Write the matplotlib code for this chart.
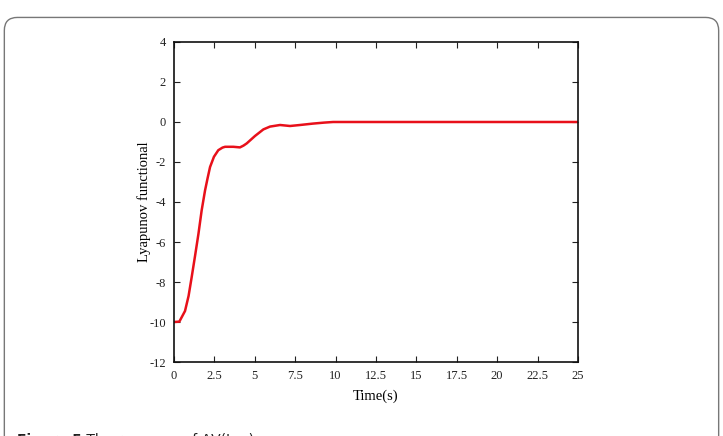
import matplotlib.pyplot as plt
from matplotlib.patches import FancyBboxPatch

# Lyapunov functional vs time
t = [0, 0.33, 0.68, 0.9, 1.09, 1.3, 1.51, 1.71, 1.92, 2.08, 2.23, 2.47, 2.74, 3.0,
     3.16, 3.67, 4.08, 4.3, 4.5, 5.01, 5.53, 5.94, 6.56, 7.18, 7.8, 8.6, 9.3, 9.85,
     12.0, 15.0, 20.0, 25.0]
v = [-10.0, -9.98, -9.45, -8.7, -7.77, -6.7, -5.6, -4.42, -3.42, -2.8, -2.25, -1.74,
     -1.41, -1.28, -1.24, -1.24, -1.27, -1.18, -1.07, -0.70, -0.37, -0.23, -0.15,
     -0.2, -0.15, -0.08, -0.03, 0.0, 0.0, 0.0, 0.0, 0.0]

xticks = [0, 2.5, 5, 7.5, 10, 12.5, 15, 17.5, 20, 22.5, 25]
xtick_labels = ['0', '2.5', '5', '7.5', '10', '12.5', '15', '17.5', '20', '22.5', '25']
yticks = [-12, -10, -8, -6, -4, -2, 0, 2, 4]

plt.rcParams['font.family'] = ['Liberation Serif', 'DejaVu Serif']
plt.rcParams['axes.unicode_minus'] = False

fig = plt.figure(figsize=(7.23, 4.36), dpi=100)
ax = fig.add_axes([0.2407, 0.1697, 0.5587, 0.734])

ax.plot(t, v, color='#e8101a', lw=1.8)

ax.set_xlim(0, 25)
ax.set_ylim(-12, 4)
ax.set_xticks(xticks)
ax.set_xticklabels(xtick_labels)
ax.set_yticks(yticks)
ax.tick_params(direction='in', top=True, right=True, length=4, width=0.8,
               labelsize=9, pad=6, colors='#222222')
for s in ax.spines.values():
    s.set_linewidth(1.2)
    s.set_color('#111111')

ax.set_xlabel('Time(s)', fontsize=10.5, labelpad=5)
ax.set_ylabel('Lyapunov functional', fontsize=10.5)
ax.yaxis.set_label_coords(-0.058, 0.5)

# rounded frame around the figure
frame = FancyBboxPatch((0.006, -0.1), 0.988, 1.06, transform=fig.transFigure,
                       boxstyle='round,pad=0,rounding_size=0.018', fill=False,
                       edgecolor='#777777', lw=1.0, mutation_aspect=1.66)
fig.patches.append(frame)

# caption, cut off by the bottom edge like in the source
cap = fig.text(0.024, 0.006, 'Figure 5', fontsize=10, fontweight='bold', va='top',
               family=['DejaVu Sans'], color='#222222')
ax.annotate(' The response of ΔV(t, x)', xy=(1, 1), xycoords=cap,
            va='top', ha='left', fontsize=10, family=['DejaVu Sans'],
            color='#222222', annotation_clip=False)

fig.savefig('out.png', dpi=100)
